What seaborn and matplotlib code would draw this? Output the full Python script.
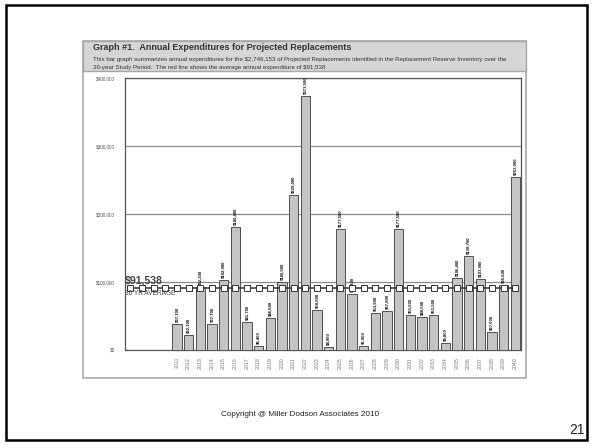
import numpy as np
import pandas as pd
import matplotlib
matplotlib.use('Agg')
import matplotlib.pyplot as plt
from matplotlib.patches import Rectangle
import seaborn as sns

# data
years = [str(y) for y in range(2011, 2041)]
spend = [37700, 22100, 92200, 37700, 102900, 180400, 41700, 6400, 46600, 100500,
         228000, 373500, 58800, 4900, 177500, 82400, 5900, 53900, 57800, 177500,
         51000, 48500, 51500, 9800, 106400, 138700, 103900, 27000, 95600, 253900]
average = 91538
n_blank = 4  # empty slots left of 2011 on the category axis

title = 'Graph #1.  Annual Expenditures for Projected Replacements'
sub1 = ('This bar graph summarizes annual expenditures for the $2,746,153 of Projected '
        'Replacements identified in the Replacement Reserve Inventory over the')
sub2 = '30-year Study Period.  The red line shows the average annual expenditure of $91,538.'

df = pd.DataFrame({'year': years, 'spend': spend})

sns.set_style('white')
plt.rcParams['font.family'] = ['Liberation Sans', 'DejaVu Sans']

W, H = 592, 445
fig = plt.figure(figsize=(W / 100, H / 100), dpi=100)

def fx(px):
    return px / W

def fy(py):
    return 1 - py / H

# slide frame
fig.patches.append(Rectangle((fx(6), fy(440)), fx(581), 435 / H, transform=fig.transFigure,
                             fill=False, edgecolor='black', linewidth=1.8, zorder=-1))
# chart panel + header band
fig.patches.append(Rectangle((fx(83), fy(378)), fx(443), 337 / H, transform=fig.transFigure,
                             facecolor='white', edgecolor='#a8a8a8', linewidth=1.2, zorder=-2))
fig.patches.append(Rectangle((fx(83), fy(71)), fx(443), 30 / H, transform=fig.transFigure,
                             facecolor='#d6d6d6', edgecolor='#a8a8a8', linewidth=1.0, zorder=-1))

fig.text(fx(93), fy(48), title, fontsize=6.5, fontweight='bold', color='#333333', va='center')
fig.text(fx(93), fy(59.5), sub1, fontsize=4.45, color='#333333', va='center')
fig.text(fx(93), fy(67), sub2, fontsize=4.45, color='#333333', va='center')

ax = fig.add_axes([fx(124.5), fy(350), fx(521) - fx(124.5), fy(78) - fy(350)])
ax.set_zorder(1)

sns.barplot(data=df, x='year', y='spend', ax=ax, color='#c4c4c4', saturation=1,
            edgecolor='#505050', linewidth=0.7, width=0.8, zorder=3)

ax.set_xlim(-n_blank - 0.5, len(years) - 0.5)
ax.set_ylim(0, 400000)
ax.set_yticks([0, 100000, 200000, 300000, 400000])
ax.set_yticklabels(['$0', '$100,000', '$200,000', '$300,000', '$400,000'])
ax.yaxis.grid(True, color='#8a8a8a', linewidth=0.9, zorder=0)
ax.set_axisbelow(True)
ax.tick_params(axis='y', length=0, pad=7, labelsize=3.3, labelcolor='#555555')
ax.tick_params(axis='x', length=0, pad=5, labelsize=3.8, labelcolor='#777777', labelrotation=90)
ax.set_xlabel('')
ax.set_ylabel('')
for s in ax.spines.values():
    s.set_color('#555555')
    s.set_linewidth(0.9)

# value labels above bars
for i, v in enumerate(spend):
    ax.text(i, v + 3000, '${:,.0f}'.format(v), rotation=90, ha='center', va='bottom',
            fontsize=3.1, fontweight='bold', color='#111111', zorder=5, clip_on=True)

# 30 year average line with square markers
xs = np.arange(-n_blank, len(years))
ax.plot(xs, [average] * len(xs), color='#333333', linewidth=1.1, marker='s', markersize=3.8,
        markerfacecolor='white', markeredgecolor='#333333', markeredgewidth=0.7, zorder=6)
ax.text(-n_blank - 0.45, average + 3500, '${:,.0f}'.format(average), fontsize=7.6,
        fontweight='bold', color='#444444', ha='left', va='bottom', zorder=7)
ax.text(-n_blank - 0.45, average - 4000, '30 YR AVERAGE', fontsize=4.7, color='#444444',
        ha='left', va='top', zorder=7)

fig.text(fx(300), fy(415), 'Copyright @ Miller Dodson Associates 2010', fontsize=5.9,
         color='#222222', ha='center', va='center')
fig.text(fx(585), fy(430), '21', fontsize=10, color='#222222', ha='right', va='center')

fig.savefig('out.png', dpi=100)
